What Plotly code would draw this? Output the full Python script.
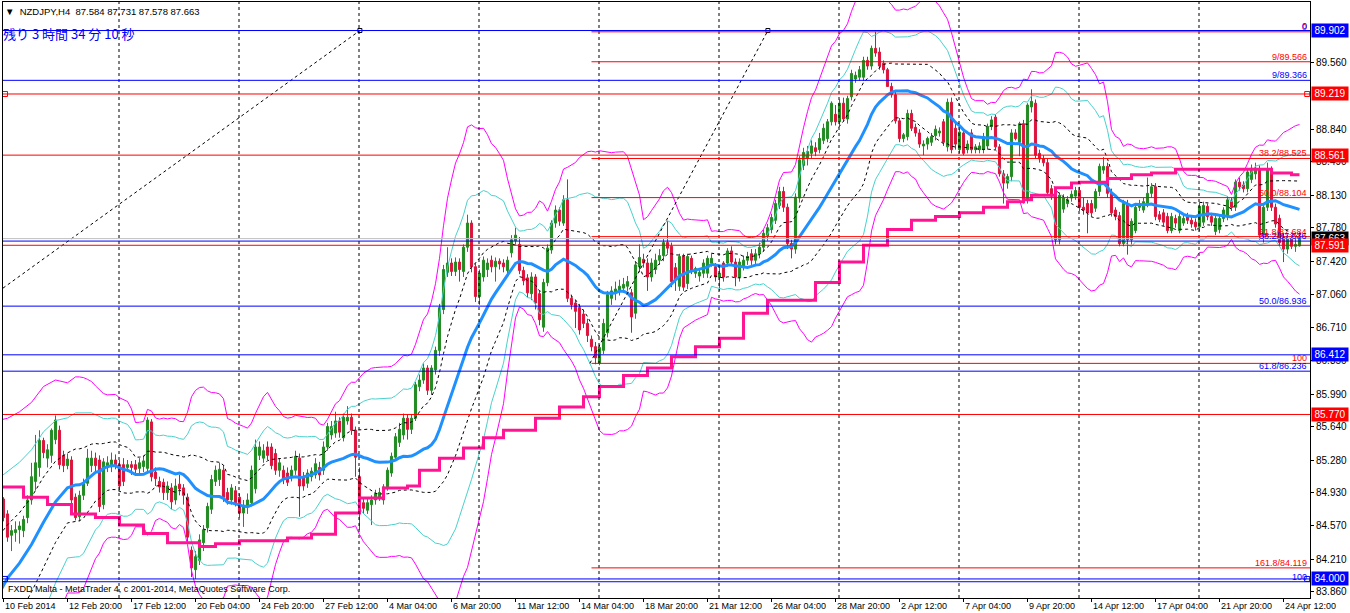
import plotly.graph_objects as go
import pandas as pd

# ---------------- OHLC data, H4 bars from 10 Feb 2014 00:00 (bar 0) ----------------
opens = [
 84.80,84.86,84.70,84.47,84.50,84.53,84.52,84.66,84.85,85.05,85.20,85.49,85.30,85.33,85.50,85.60,85.33,85.22,85.28,84.88,84.67,84.90,85.03,85.22,85.30,85.28,84.80,85.20,85.22,85.28,
 85.23,85.23,85.20,85.23,85.23,85.19,85.21,85.19,85.69,85.15,85.05,85.04,84.93,84.98,84.85,85.02,84.98,84.88,84.31,84.10,84.20,84.39,84.55,84.75,85.05,85.07,85.17,84.93,84.85,84.95,
 84.88,84.71,84.78,84.82,84.97,85.33,85.30,85.42,85.42,85.35,85.17,85.17,85.14,85.10,85.17,85.30,85.10,85.03,85.10,85.12,85.20,85.17,85.42,85.55,85.57,85.70,85.52,85.70,85.74,85.60,
 85.10,84.82,84.74,84.80,84.85,84.88,84.85,84.99,85.14,85.31,85.47,85.55,85.73,85.61,85.73,86.07,86.14,86.27,86.03,86.25,86.46,86.90,87.30,87.40,87.31,87.41,87.31,87.57,87.83,87.36,
 87.04,87.25,87.33,87.43,87.36,87.42,87.40,87.32,87.51,87.64,87.60,87.32,87.24,87.07,87.25,87.07,86.71,87.19,87.54,87.83,87.97,87.83,88.08,87.02,86.97,86.92,86.85,86.75,86.58,86.50,
 86.32,86.46,86.65,87.02,87.08,87.10,87.13,87.15,87.08,86.86,87.36,87.44,87.40,87.25,87.33,87.43,87.48,87.62,87.58,87.35,87.15,87.47,87.18,87.45,87.29,87.26,87.29,87.29,87.40,87.36,
 87.25,87.40,87.40,87.53,87.41,87.25,87.36,87.43,87.50,87.43,87.50,87.57,87.69,87.76,87.86,88.02,88.17,88.00,87.61,87.55,88.10,88.45,88.53,88.58,88.64,88.62,88.72,88.74,88.92,89.00,
 88.92,89.12,88.95,89.19,89.38,89.40,89.40,89.58,89.52,89.71,89.67,89.55,89.48,89.30,89.21,88.93,88.74,88.76,89.01,88.86,88.80,88.66,88.68,88.70,88.77,88.80,88.92,88.65,89.13,88.85,
 88.62,88.80,88.62,88.80,88.62,88.62,88.62,88.66,88.87,88.97,88.65,88.36,88.26,88.33,88.80,88.70,88.90,88.08,89.08,89.12,88.58,88.52,88.48,88.20,88.12,87.65,87.98,88.04,88.10,88.12,
 88.18,88.00,88.04,88.04,87.99,88.17,88.40,88.44,88.15,87.97,87.91,87.61,88.04,87.65,87.75,88.00,87.97,88.03,88.15,88.22,87.92,87.94,87.90,87.75,87.88,87.75,87.83,87.90,87.86,87.84,
 87.79,87.84,88.01,87.90,87.74,87.76,87.88,87.90,88.06,88.00,88.27,88.24,88.20,88.30,88.36,88.40,87.70,88.00,88.40,88.00,87.88,87.68,87.55,87.66,87.58,87.584,
]
highs = [
 84.92,84.88,84.74,84.58,84.62,84.62,84.68,84.90,85.25,85.55,85.60,85.52,85.45,85.62,85.76,85.65,85.38,85.35,85.32,84.92,84.95,85.08,85.40,85.38,85.36,85.33,85.30,85.32,85.36,85.34,
 85.28,85.30,85.28,85.27,85.28,85.30,85.33,85.74,85.72,85.20,85.10,85.08,85.05,85.03,85.08,85.12,85.02,84.92,84.35,84.30,84.48,84.58,84.82,85.12,85.22,85.25,85.22,84.98,85.02,85.00,
 84.92,84.85,84.92,85.22,85.50,85.48,85.45,85.48,85.46,85.40,85.30,85.22,85.20,85.22,85.38,85.35,85.15,85.18,85.20,85.30,85.26,85.48,85.68,85.70,85.80,85.74,85.78,85.86,85.78,85.64,
 85.20,84.88,84.88,84.90,84.96,84.98,85.02,85.20,85.36,85.57,85.68,85.78,85.77,85.77,86.12,86.20,86.32,86.30,86.30,86.50,86.96,87.38,87.57,87.45,87.46,87.45,87.60,87.92,87.86,87.40,
 87.33,87.47,87.45,87.48,87.46,87.45,87.44,87.47,87.70,87.78,87.68,87.36,87.28,87.30,87.28,87.10,87.23,87.60,87.86,88.02,88.00,88.13,88.30,87.06,87.00,86.96,86.90,86.80,86.62,86.55,
 86.52,86.80,87.10,87.15,87.20,87.22,87.24,87.26,87.12,87.42,87.60,87.50,87.45,87.45,87.50,87.55,87.66,87.85,87.62,87.40,87.50,87.50,87.50,87.48,87.36,87.34,87.44,87.48,87.50,87.40,
 87.36,87.42,87.56,87.58,87.45,87.45,87.48,87.52,87.55,87.55,87.62,87.76,87.82,87.93,88.08,88.22,88.22,88.04,87.65,88.15,88.55,88.64,88.66,88.72,88.70,88.80,88.90,88.95,89.14,89.10,
 89.16,89.18,89.20,89.48,89.46,89.52,89.62,89.62,89.74,89.89,89.72,89.58,89.50,89.34,89.25,88.96,88.80,89.05,89.05,88.90,88.84,88.72,88.76,88.80,88.88,88.86,88.95,89.17,89.18,88.90,
 88.85,88.84,88.72,88.84,88.68,88.70,88.80,88.90,88.98,89.00,88.68,88.40,88.36,88.84,88.84,88.92,88.94,89.12,89.27,89.16,88.62,88.56,88.52,88.24,88.15,88.16,88.14,88.12,88.18,88.22,
 88.22,88.10,88.08,88.08,88.20,88.47,88.54,88.48,88.20,88.00,87.95,88.08,88.08,87.88,88.04,88.08,88.10,88.32,88.26,88.26,87.96,87.98,87.94,87.94,87.92,87.94,87.92,87.94,87.90,87.88,
 88.05,88.06,88.04,87.94,87.92,87.92,88.00,88.12,88.10,88.30,88.32,88.28,88.42,88.46,88.48,88.45,88.04,88.48,88.44,88.04,87.92,87.72,87.70,87.70,87.66,87.731,
]
lows = [
 84.74,84.62,84.40,84.30,84.40,84.38,84.45,84.60,84.80,84.95,85.10,85.30,85.20,85.25,85.45,85.18,85.15,85.18,84.80,84.63,84.62,84.85,85.00,85.15,85.15,84.72,84.75,85.15,85.15,85.18,
 84.95,85.00,85.15,85.12,85.12,85.14,85.15,85.15,85.05,85.00,84.93,84.85,84.85,84.75,84.80,84.90,84.80,84.40,84.02,84.00,84.15,84.30,84.50,84.70,85.00,85.00,84.83,84.80,84.80,84.78,
 84.66,84.56,84.70,84.78,84.92,85.28,85.25,85.28,85.18,85.12,85.10,85.02,85.00,85.05,85.12,84.67,84.95,84.98,85.05,85.08,85.06,85.12,85.38,85.50,85.52,85.52,85.48,85.66,85.55,85.10,
 84.53,84.70,84.70,84.58,84.80,84.84,84.80,84.95,85.10,85.28,85.42,85.50,85.50,85.56,85.70,86.02,86.10,85.98,85.98,86.20,86.40,86.85,87.25,87.26,87.26,87.20,87.25,87.52,87.30,86.98,
 86.95,87.20,87.25,87.30,87.20,87.33,87.30,87.28,87.46,87.60,87.28,87.16,87.03,87.00,86.90,86.73,86.66,87.15,87.50,87.78,87.80,87.80,86.98,86.90,86.70,86.63,86.70,86.55,86.45,86.31,
 86.30,86.42,86.60,86.95,87.00,87.05,87.08,87.10,86.65,86.80,87.30,87.35,87.10,87.20,87.28,87.38,87.42,87.50,87.14,87.10,87.10,87.10,87.12,87.28,87.24,87.20,87.24,87.24,87.36,87.20,
 87.10,87.20,87.36,87.38,87.15,87.20,87.32,87.38,87.38,87.38,87.45,87.52,87.64,87.72,87.82,87.98,87.95,87.55,87.45,87.50,88.05,88.40,88.45,88.52,88.55,88.58,88.68,88.70,88.88,88.88,
 88.88,88.92,88.90,89.15,89.34,89.36,89.36,89.48,89.48,89.62,89.48,89.44,89.30,89.18,88.90,88.70,88.70,88.72,88.82,88.76,88.64,88.56,88.62,88.66,88.72,88.76,88.66,88.60,88.58,88.62,
 88.58,88.56,88.58,88.58,88.58,88.58,88.58,88.62,88.83,88.62,88.33,88.04,88.20,88.28,88.72,88.55,88.04,88.04,89.02,88.52,88.48,88.44,88.12,88.08,87.60,87.60,87.94,88.00,88.06,88.08,
 87.96,87.92,87.72,87.90,87.95,88.12,88.36,88.10,87.90,87.86,87.58,87.58,87.49,87.60,87.72,87.96,87.94,88.00,88.10,87.86,87.84,87.80,87.72,87.72,87.78,87.72,87.80,87.82,87.78,87.75,
 87.74,87.80,87.86,87.80,87.70,87.72,87.84,87.86,87.96,87.96,88.18,88.16,88.16,88.26,88.30,87.65,87.62,87.96,87.96,87.78,87.58,87.41,87.50,87.55,87.52,87.578,
]
closes = [
 84.86,84.66,84.45,84.52,84.53,84.57,84.64,84.85,85.10,85.25,85.49,85.36,85.39,85.60,85.71,85.23,85.22,85.29,84.85,84.66,84.90,85.03,85.30,85.30,85.22,84.78,85.26,85.25,85.28,85.23,
 85.00,85.05,85.23,85.20,85.18,85.25,85.27,85.71,85.10,85.08,84.99,84.93,85.00,84.83,85.00,84.97,84.90,84.45,84.12,84.24,84.42,84.53,84.78,85.07,85.17,85.18,84.88,84.85,84.98,84.82,
 84.71,84.78,84.85,85.17,85.42,85.42,85.38,85.33,85.22,85.17,85.25,85.07,85.04,85.17,85.32,85.00,85.00,85.14,85.16,85.24,85.12,85.42,85.64,85.64,85.70,85.58,85.74,85.74,85.60,85.31,
 84.82,84.76,84.82,84.85,84.92,84.93,84.99,85.17,85.32,85.53,85.61,85.73,85.61,85.73,86.09,86.14,86.27,86.03,86.27,86.46,86.92,87.33,87.40,87.31,87.41,87.33,87.57,87.83,87.36,87.04,
 87.29,87.43,87.40,87.36,87.42,87.39,87.36,87.43,87.65,87.70,87.32,87.21,87.08,87.25,86.97,86.79,87.19,87.56,87.83,87.97,87.85,88.08,87.02,86.95,86.88,86.68,86.75,86.62,86.50,86.38,
 86.49,86.75,87.06,87.10,87.12,87.15,87.17,87.20,86.82,87.38,87.46,87.40,87.25,87.40,87.43,87.48,87.62,87.56,87.20,87.22,87.47,87.14,87.47,87.31,87.34,87.30,87.40,87.45,87.45,87.25,
 87.29,87.25,87.53,87.41,87.25,87.41,87.43,87.47,87.43,87.50,87.57,87.72,87.78,87.89,88.04,88.17,88.00,87.61,87.55,88.11,88.51,88.59,88.60,88.66,88.60,88.74,88.85,88.92,89.12,88.92,
 89.12,88.95,89.17,89.44,89.42,89.48,89.58,89.52,89.71,89.66,89.52,89.48,89.30,89.21,88.93,88.74,88.78,89.01,88.85,88.80,88.68,88.68,88.74,88.76,88.84,88.82,88.70,89.13,88.62,88.68,
 88.81,88.58,88.68,88.62,88.65,88.66,88.76,88.87,88.94,88.65,88.36,88.26,88.33,88.80,88.74,88.90,88.08,89.10,89.14,88.56,88.52,88.48,88.16,88.12,87.65,88.13,88.10,88.08,88.14,88.18,
 88.00,87.97,87.94,87.94,88.17,88.44,88.44,88.15,87.94,87.90,87.61,88.04,87.65,87.85,88.00,88.04,88.06,88.15,88.22,87.90,87.87,87.84,87.75,87.90,87.83,87.90,87.88,87.86,87.82,87.79,
 88.01,88.02,87.90,87.84,87.88,87.88,87.97,88.08,88.00,88.27,88.22,88.20,88.38,88.42,88.42,87.70,88.00,88.40,88.00,87.82,87.62,87.55,87.66,87.58,87.60,87.663,
]

# Bollinger-band values read at the left edge (before 20 bars of history are on screen)
early_bars = [0, 2, 5, 8, 11, 14, 17]
early_mid = [83.85, 84.01, 84.17, 84.37, 84.61, 84.83, 84.98]
early_dev = [0.62, 0.573, 0.543, 0.51, 0.487, 0.437, 0.377]

# pink step line (daily level shown on H4)
pink_bars = [0, 6, 12, 18, 24, 30, 36, 42, 50, 54, 60, 72, 78, 84, 90, 96, 102, 105, 110, 116, 121,
             126, 134, 140, 146, 150, 156, 162, 168, 174, 180, 186, 192, 204, 210, 216, 222, 228,
             234, 240, 246, 252, 256, 258, 264, 268, 270, 277, 283, 288, 294, 318, 323, 325]
pink_vals = [84.99, 84.88, 84.80, 84.70, 84.66, 84.58, 84.49, 84.39, 84.35, 84.38, 84.41, 84.44, 84.48,
             84.71, 84.87, 84.98, 85.00, 85.17, 85.30, 85.41, 85.52, 85.60, 85.73, 85.85, 85.96, 86.07,
             86.19, 86.27, 86.39, 86.50, 86.59, 86.86, 87.00, 87.19, 87.41, 87.59, 87.76, 87.86, 87.90,
             87.94, 88.00, 88.06, 88.08, 88.13, 88.21, 88.26, 88.27, 88.31, 88.35, 88.37, 88.41, 88.37,
             88.35, 88.35]

# trend lines (bar, price)
trend1_bars = [0.875, 90.1]
trend1_prices = [87.13, 89.902]
trend2_bars = [147.6, 192.1]
trend2_prices = [86.32, 89.902]

# horizontal lines with price boxes
red_levels = [89.219, 88.561, 87.591, 85.770]
blue_levels = [89.902, 86.412, 84.000]
current_price = 87.663

# Fibonacci retracements
red_fib_prices = [89.888, 89.566, 88.525, 88.104, 87.684, 86.320, 84.119]
red_fib_labels = ["0", "9/89.566", "38.2/88.525", "50.0/88.104", "61.8/87.684", "100", "161.8/84.119"]
red_fib_start_bar = 148
blue_fib_prices = [89.902, 89.366, 87.636, 86.936, 86.236, 83.970]
blue_fib_labels = ["0", "9/89.366", "38.2/87.636", "50.0/86.936", "61.8/86.236", "100"]

# axes
price_ticks = [89.560, 88.840, 88.490, 88.130, 87.780, 87.420, 87.060, 86.710, 86.350, 85.990,
               85.640, 85.280, 84.930, 84.570, 84.210, 83.860]
date_label_bars = [1, 17, 33, 49, 65, 81, 97, 113, 129, 145, 161, 177, 193, 209, 225, 241, 257, 273, 289, 305, 321]
date_labels = ["10 Feb 2014", "12 Feb 20:00", "17 Feb 12:00", "20 Feb 04:00", "24 Feb 20:00", "27 Feb 12:00",
               "4 Mar 04:00", "6 Mar 20:00", "11 Mar 12:00", "14 Mar 04:00", "18 Mar 20:00", "21 Mar 12:00",
               "26 Mar 04:00", "28 Mar 20:00", "2 Apr 12:00", "7 Apr 04:00", "9 Apr 20:00", "14 Apr 12:00",
               "17 Apr 04:00", "21 Apr 20:00", "24 Apr 12:00"]
week_start_bars = [30, 60, 90, 120, 150, 180, 210, 240, 270, 300]

# ---------------- build ----------------
n = min(len(opens), len(highs), len(lows), len(closes))
bars = list(range(n))
cs = pd.Series(closes[:n])
mid = cs.rolling(20).mean()
dev = cs.rolling(20).std(ddof=0)
bb_x = early_bars + list(range(19, n))
bb_mid = early_mid + list(mid.iloc[19:])
bb_dev = early_dev + list(dev.iloc[19:])

X_RANGE = [0.875, 327.625]
Y_RANGE = [83.795, 90.209]
FONT = "Liberation Sans"
RED = "#FF0000"
BLUE = "#0000FF"

fig = go.Figure()
fig.add_trace(go.Candlestick(
    x=bars, open=opens[:n], high=highs[:n], low=lows[:n], close=closes[:n],
    increasing=dict(line=dict(color="#228B22", width=1), fillcolor="#228B22"),
    decreasing=dict(line=dict(color="#DC143C", width=1), fillcolor="#DC143C"),
    whiskerwidth=0, hoverinfo="skip", showlegend=False))

band_styles = [(3, "#FF00FF", "solid"), (2, "#48D1CC", "solid"), (1, "#000000", "3px,3px")]
for mult, col, dash in band_styles:
    up = [m + mult * d for m, d in zip(bb_mid, bb_dev)]
    lo = [m - mult * d for m, d in zip(bb_mid, bb_dev)]
    for yy in (up, lo):
        fig.add_trace(go.Scatter(x=bb_x, y=yy, mode="lines", line=dict(color=col, width=1, dash=dash),
                                 hoverinfo="skip", showlegend=False))

fig.add_trace(go.Scatter(x=bb_x, y=bb_mid, mode="lines", line=dict(color="#1E90FF", width=3),
                         hoverinfo="skip", showlegend=False))
fig.add_trace(go.Scatter(x=pink_bars, y=pink_vals, mode="lines", line=dict(color="#FF1493", width=3, shape="hv"),
                         hoverinfo="skip", showlegend=False))

for tb, tp in ((trend1_bars, trend1_prices), (trend2_bars, trend2_prices)):
    fig.add_trace(go.Scatter(x=tb, y=tp, mode="lines", line=dict(color="#000000", width=1, dash="3px,3px"),
                             hoverinfo="skip", showlegend=False))
    fig.add_trace(go.Scatter(x=[tb[1]], y=[tp[1]], mode="markers",
                             marker=dict(symbol="square-open", size=4, color="#000000", line=dict(width=1)),
                             hoverinfo="skip", showlegend=False))

shapes = []
for wb in week_start_bars:
    shapes.append(dict(type="line", xref="x", yref="paper", x0=wb - 0.125, x1=wb - 0.125, y0=0, y1=1,
                       line=dict(color="#000000", width=1, dash="3px,3px")))
shapes.append(dict(type="line", xref="paper", yref="y", x0=0, x1=1, y0=current_price, y1=current_price,
                   line=dict(color="#C0C0C0", width=1)))
for p in blue_fib_prices:
    shapes.append(dict(type="line", xref="paper", yref="y", x0=0, x1=1, y0=p, y1=p, line=dict(color=BLUE, width=1)))
for p in red_fib_prices:
    shapes.append(dict(type="line", xref="x", yref="y", x0=red_fib_start_bar, x1=X_RANGE[1], y0=p, y1=p,
                       line=dict(color=RED, width=1)))
for p in red_levels:
    shapes.append(dict(type="line", xref="paper", yref="y", x0=0, x1=1, y0=p, y1=p, line=dict(color=RED, width=1)))
for p in blue_levels:
    shapes.append(dict(type="line", xref="paper", yref="y", x0=0, x1=1, y0=p, y1=p, line=dict(color=BLUE, width=1)))

# small anchor squares on two of the lines
fig.add_trace(go.Scatter(x=[X_RANGE[0] + 0.5, X_RANGE[1] - 0.7], y=[red_levels[0]] * 2, mode="markers",
                         marker=dict(symbol="square-open", size=5, color=RED, line=dict(width=1)),
                         hoverinfo="skip", showlegend=False))
fig.add_trace(go.Scatter(x=[X_RANGE[0] + 0.5, X_RANGE[1] - 0.7], y=[blue_levels[2]] * 2, mode="markers",
                         marker=dict(symbol="square-open", size=5, color=BLUE, line=dict(width=1)),
                         hoverinfo="skip", showlegend=False))

ann = []
for p, t in zip(red_fib_prices, red_fib_labels):
    ann.append(dict(x=1, xref="paper", y=p, yref="y", text=t, showarrow=False, xanchor="right", yanchor="bottom",
                    xshift=-1, yshift=-2, font=dict(family=FONT, size=9, color=RED)))
for p, t in zip(blue_fib_prices, blue_fib_labels):
    ann.append(dict(x=1, xref="paper", y=p, yref="y", text=t, showarrow=False, xanchor="right", yanchor="bottom",
                    xshift=-1, yshift=-2, font=dict(family=FONT, size=9, color=BLUE)))


def price_box(p, bg):
    return dict(x=1, xref="paper", y=p, yref="y", text="%.3f" % p, showarrow=False, xanchor="left",
                yanchor="middle", xshift=1, bgcolor=bg, width=34, height=11, borderpad=1,
                font=dict(family=FONT, size=10, color="#FFFFFF"))


ann.append(price_box(current_price, "#000000"))
for p in blue_levels:
    ann.append(price_box(p, BLUE))
for p in red_levels:
    ann.append(price_box(p, RED))

for b, t in zip(date_label_bars, date_labels):
    ann.append(dict(x=b, xref="x", y=0, yref="paper", text=t, showarrow=False, xanchor="left", yanchor="top",
                    xshift=-1, yshift=-1, font=dict(family=FONT, size=9, color="#000000")))

ann.append(dict(x=0, xref="paper", y=1, yref="paper", text="▼  NZDJPY,H4  87.584 87.731 87.578 87.663",
                showarrow=False, xanchor="left", yanchor="top", xshift=0, yshift=-2,
                font=dict(family=FONT, size=9.5, color="#000000")))
ann.append(dict(x=0, xref="paper", y=1, yref="paper", text="残り 3 時間 34 分 10 秒",
                showarrow=False, xanchor="left", yanchor="top", xshift=-2, yshift=-20,
                font=dict(family="Noto Sans CJK JP", size=13, color=BLUE)))
ann.append(dict(x=0, xref="paper", y=0, yref="paper",
                text="FXDD Malta - MetaTrader 4, c 2001-2014, MetaQuotes Software Corp.",
                showarrow=False, xanchor="left", yanchor="bottom", xshift=3, yshift=2,
                font=dict(family=FONT, size=9, color="#000000")))

fig.update_layout(
    width=1350, height=613, margin=dict(l=3, r=40, t=2, b=15),
    paper_bgcolor="#FFFFFF", plot_bgcolor="#FFFFFF", showlegend=False,
    shapes=shapes, annotations=ann, boxgap=0.25,
    xaxis=dict(range=X_RANGE, showgrid=False, zeroline=False, rangeslider=dict(visible=False),
               tickvals=date_label_bars, ticktext=[""] * len(date_label_bars), ticks="outside", ticklen=3,
               tickcolor="#000000", showline=True, linecolor="#000000", linewidth=1, mirror=True, fixedrange=True),
    yaxis=dict(range=Y_RANGE, side="right", showgrid=False, zeroline=False, tickvals=price_ticks,
               ticktext=["%.3f" % v for v in price_ticks], ticks="outside", ticklen=3, tickcolor="#000000",
               tickfont=dict(family=FONT, size=10, color="#000000"), showline=True, linecolor="#000000",
               linewidth=1, mirror=True, fixedrange=True),
)

fig.write_html("out.html", config={"displayModeBar": False},
               post_script="document.body.style.margin='0';document.body.style.padding='0';"
                           "document.documentElement.style.overflow='hidden';")
